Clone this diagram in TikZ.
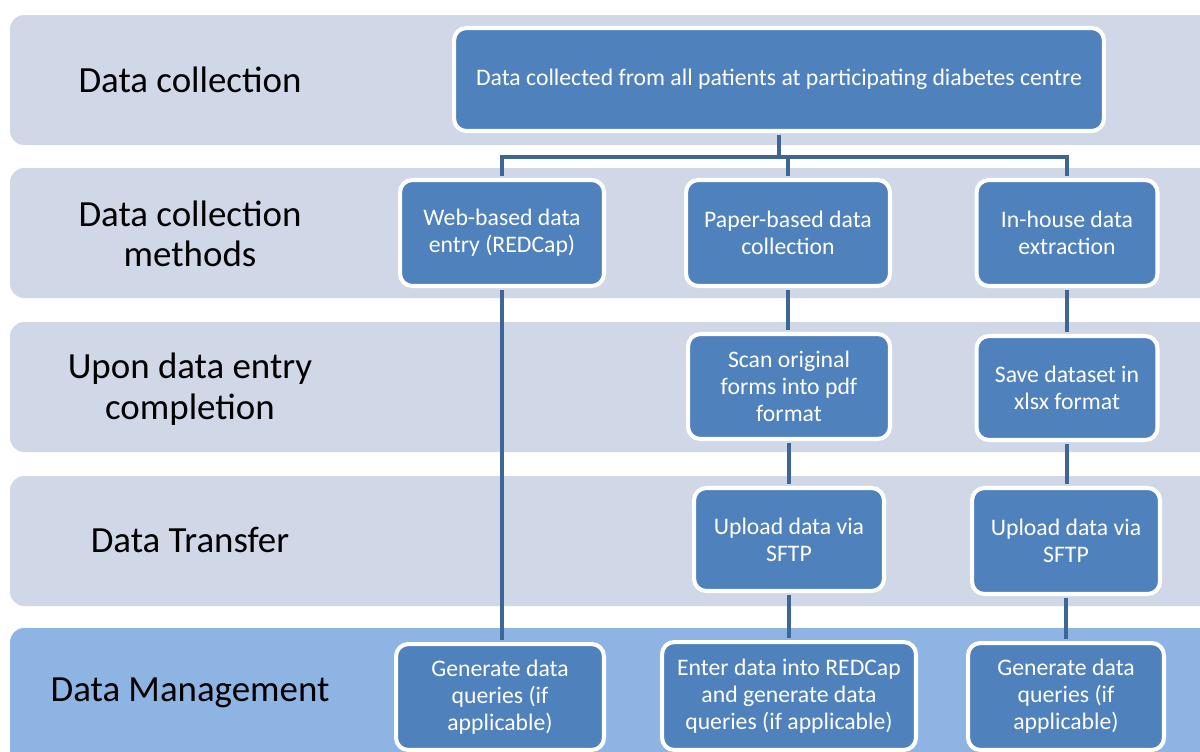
\documentclass[tikz,border=0pt]{standalone}
\usepackage{fontspec}
\setmainfont{Carlito}
\usetikzlibrary{positioning}

\definecolor{bandgray}{HTML}{D0D8E8}
\definecolor{bandblue}{HTML}{8EB4E3}
\definecolor{boxblue}{HTML}{4F81BD}
\definecolor{linkblue}{HTML}{3C6696}

\tikzset{
  band/.style={fill=bandgray, rounded corners=8pt},
  bandlabel/.style={align=center, font=\fontsize{21}{23}\selectfont, text=black},
  stepbox/.style={draw=white, line width=2.3pt, fill=boxblue, rounded corners=7pt,
    align=center, text=white, inner sep=0pt, font=\fontsize{13.5}{15.3}\selectfont},
  link/.style={draw=linkblue, line width=2.8pt, shorten <=1.1pt, shorten >=1.1pt}
}

\begin{document}
\begin{tikzpicture}[x=0.02cm, y=-0.02cm]

    \useasboundingbox (0,0) rectangle (1200,751);
    \clip (0,0) rectangle (1200,751);

    % stage bands
    \fill[band] (10,15) rectangle (1220,145);
    \fill[band] (10,168) rectangle (1220,298);
    \fill[band] (10,322) rectangle (1220,452);
    \fill[band] (10,476) rectangle (1220,606);
    \fill[band, fill=bandblue] (10,628) rectangle (1220,780);

    \node[bandlabel] (lab1) at (190,80) {Data collection};
    \node[bandlabel] (lab2) at (190,234) {Data collection\\methods};
    \node[bandlabel] (lab3) at (190,389) {Upon data entry\\completion};
    \node[bandlabel] (lab4) at (190,540) {Data Transfer};
    \node[bandlabel] (lab5) at (190,693) {Data Management};

    % boxes
    \node[stepbox, minimum width=13cm, minimum height=2.06cm] (top) at (779,79.5)
        {\raisebox{-2pt}{Data collected from all patients at participating diabetes centre}};

    \node[stepbox, minimum width=4.08cm, minimum height=2.12cm] (web) at (502,233)
        {Web-based data\\entry (REDCap)};
    \node[stepbox, minimum width=4.08cm, minimum height=2.12cm] (paper) at (788,233)
        {Paper-based data\\collection};
    \node[stepbox, minimum width=3.62cm, minimum height=2.12cm] (inhouse) at (1067,233)
        {In-house data\\extraction};

    \node[stepbox, minimum width=4.04cm, minimum height=2.1cm] (scan) at (789,386.5)
        {Scan original\\forms into pdf\\format};
    \node[stepbox, minimum width=3.62cm, minimum height=2.08cm] (save) at (1067,388)
        {Save dataset in\\xlsx format};

    \node[stepbox, minimum width=3.8cm, minimum height=2.06cm] (upB) at (789,539.5)
        {Upload data via\\SFTP};
    \node[stepbox, minimum width=3.76cm, minimum height=2.12cm] (upC) at (1066,541)
        {Upload data via\\SFTP};

    \node[stepbox, minimum width=4.16cm, minimum height=2.12cm] (qA) at (500,697)
        {Generate data\\queries (if\\applicable)};
    \node[stepbox, minimum width=5.08cm, minimum height=2.16cm] (enterB) at (789,696)
        {Enter data into REDCap\\and generate data\\queries (if applicable)};
    \node[stepbox, minimum width=3.92cm, minimum height=2.14cm] (qC) at (1066,696.5)
        {Generate data\\queries (if\\applicable)};

    % connectors
    \coordinate (busL) at (502,157);
    \coordinate (busR) at (1067,157);
    \draw[link] (top.south) -- (top.south |- busL);
    \draw[link, line join=miter] (web.north) -- (busL) -- (busR) -- (inhouse.north);
    \draw[link] (paper.north |- busL) -- (paper.north);

    \draw[link] (web.south) -- (web.south |- qA.north);

    \draw[link] (paper.south) -- (paper.south |- scan.north);
    \draw[link] (scan.south) -- (scan.south |- upB.north);
    \draw[link] (upB.south) -- (upB.south |- enterB.north);

    \draw[link] (inhouse.south) -- (inhouse.south |- save.north);
    \draw[link] (save.south) -- (save.south |- upC.north);
    \draw[link] (upC.south) -- (upC.south |- qC.north);

\end{tikzpicture}
\end{document}
